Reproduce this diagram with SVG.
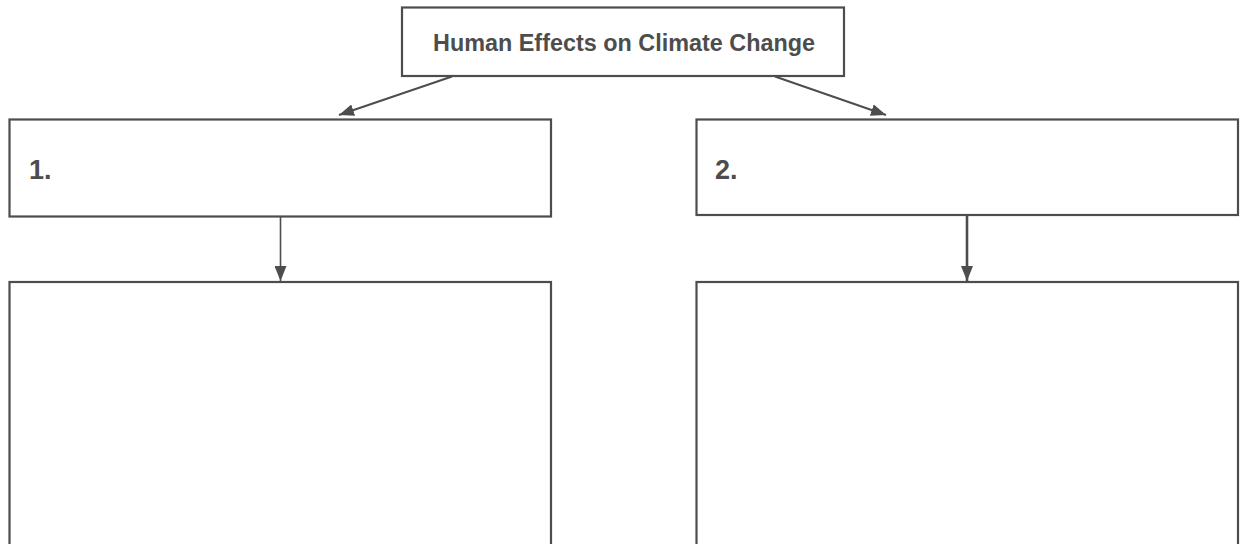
<svg xmlns="http://www.w3.org/2000/svg" width="1240" height="544" viewBox="0 0 1240 544">
<style>
.box{fill:#fff;stroke:#4d4d4d;stroke-width:2.2}
.t{font-family:"Liberation Sans",Arial,sans-serif;font-weight:bold;fill:#4d4d4d}
.c{stroke:#4d4d4d;fill:none}
</style>
<defs>
<marker id="ah" markerUnits="userSpaceOnUse" markerWidth="16" markerHeight="12" refX="15" refY="6" orient="auto">
<path d="M0,0 L15,6 L0,12 Z" fill="#4d4d4d"/>
</marker>
</defs>
<rect width="1240" height="544" fill="#fff"/>
<g id="connectors">
<line class="c" stroke-width="2" x1="452" y1="76.5" x2="339" y2="115" marker-end="url(#ah)"/>
<line class="c" stroke-width="2" x1="775" y1="76.5" x2="886" y2="115" marker-end="url(#ah)"/>
<line class="c" stroke-width="1.6" x1="280.5" y1="217" x2="280.5" y2="281" marker-end="url(#ah)"/>
<line class="c" stroke-width="2.6" x1="967" y1="215" x2="967" y2="281" marker-end="url(#ah)"/>
</g>
<g id="title">
<rect class="box" x="402" y="7.5" width="442" height="68.5"/>
<text class="t" x="624" y="50.5" font-size="23" text-anchor="middle" textLength="382" lengthAdjust="spacingAndGlyphs">Human Effects on Climate Change</text>
</g>
<g id="box1">
<rect class="box" x="9.5" y="119.5" width="541.5" height="97"/>
<text class="t" x="29" y="178.5" font-size="27">1.</text>
</g>
<g id="box2">
<rect class="box" x="696.5" y="119.5" width="541.5" height="95.5"/>
<text class="t" x="715" y="178.5" font-size="27">2.</text>
</g>
<g id="box3">
<rect class="box" x="9.5" y="282" width="541.5" height="280"/>
</g>
<g id="box4">
<rect class="box" x="696.5" y="282" width="541.5" height="280"/>
</g>
</svg>
